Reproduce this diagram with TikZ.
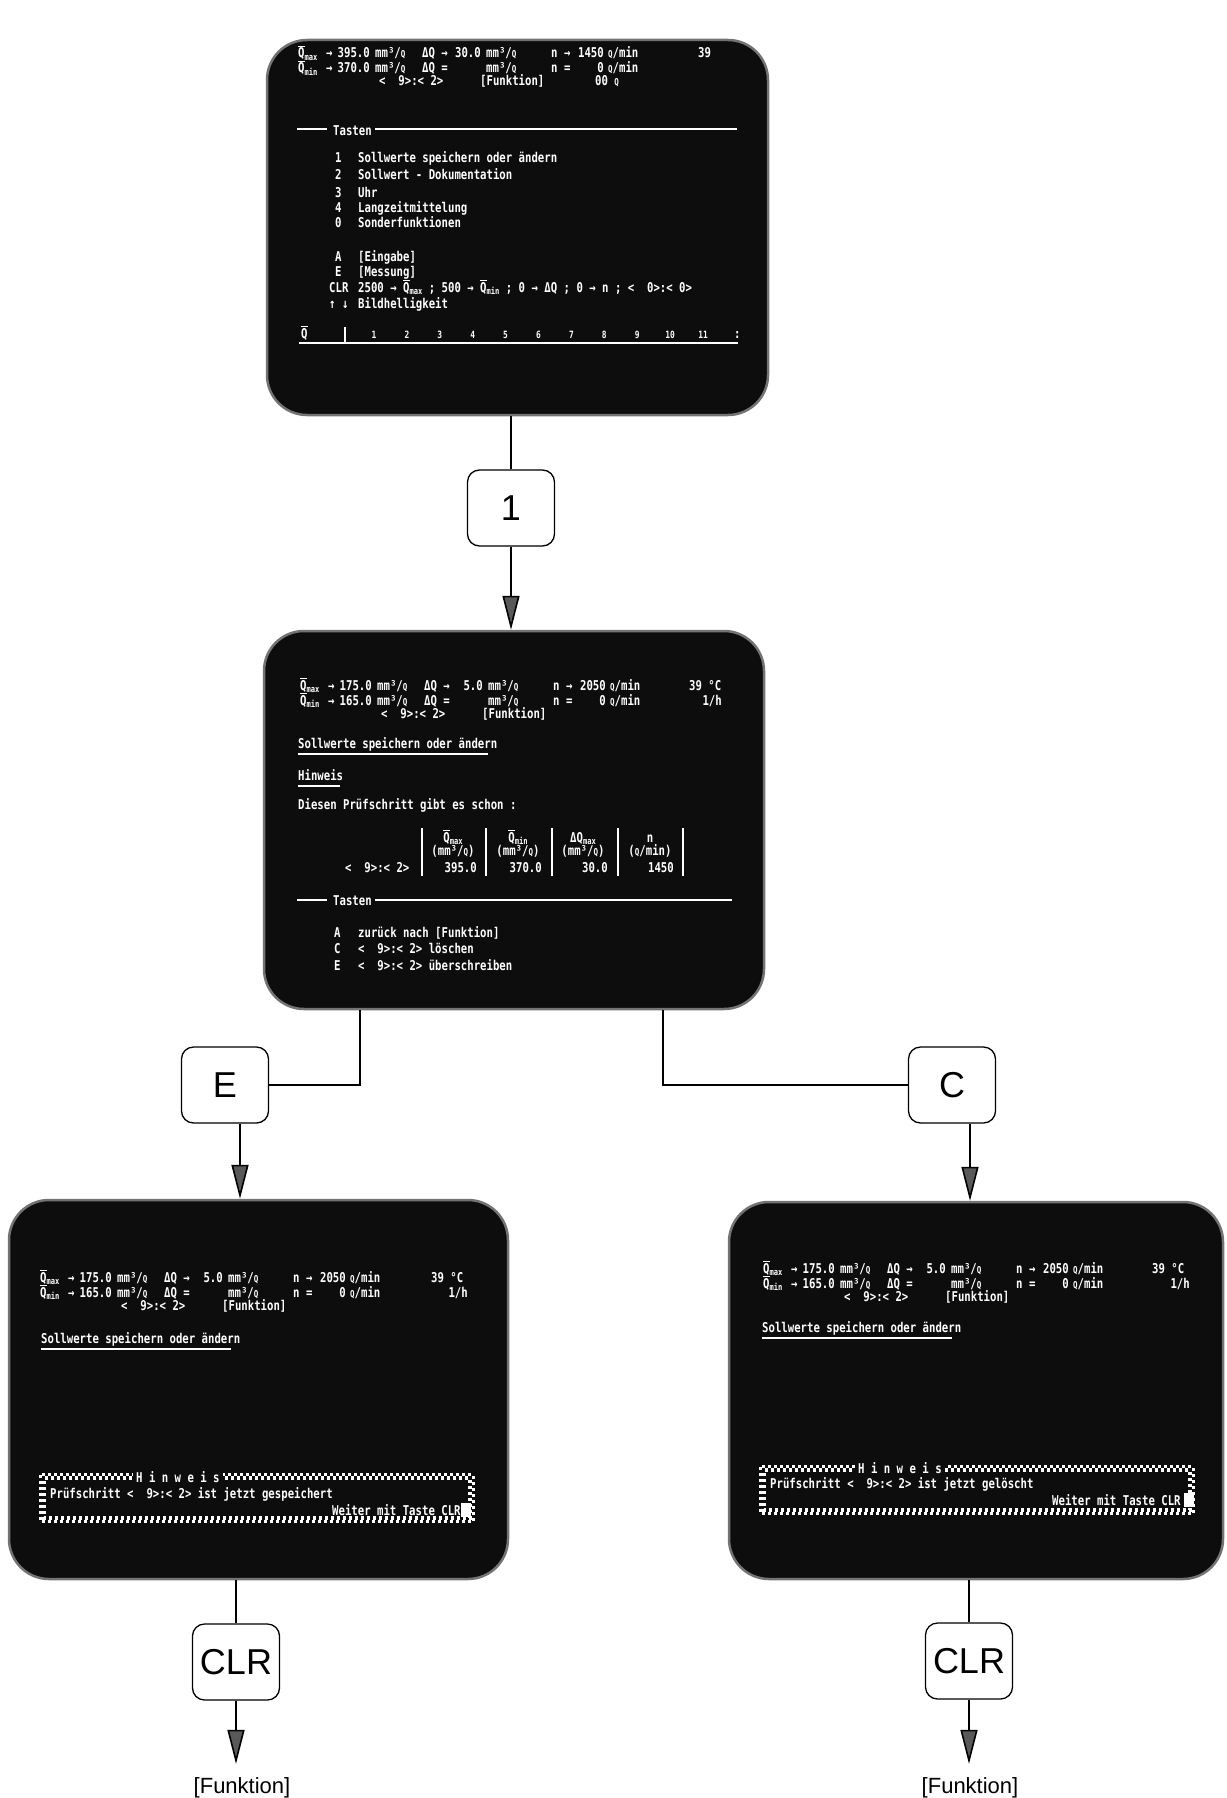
\documentclass[tikz,border=0pt]{standalone}
\usepackage{fontspec}
\setmainfont{Liberation Sans}
\newfontfamily\crtfamily[FakeStretch=0.79]{DejaVu Sans Mono}
\usepackage{tikz}
\usetikzlibrary{arrows.meta}

\newcommand\crtfont{\crtfamily\bfseries\fontsize{13.5}{16}\selectfont}
\newcommand\tief[1]{\raisebox{-2.5pt}{\fontsize{9}{9}\selectfont #1}}
\newcommand\qbar[1]{\makebox[0pt][l]{\rule[11pt]{7pt}{0.9pt}}Q\tief{#1}}
\newcommand\hub{{\fontsize{9.5}{9.5}\selectfont Q}}
\newcommand\kopf[6]{%
  \begin{scope}[shift={(#1,#2)}]
    \node[crt] at (0,0) {\qbar{max}};
    \node[crt] at (0,15) {\qbar{min}};
    \node[crt] at (28,0) {→};
    \node[crt] at (28,15) {→};
    \node[crt,anchor=base east] at (72,0) {#3};
    \node[crt,anchor=base east] at (72,15) {#6};
    \node[crt] at (77,0) {mm³/\hub};
    \node[crt] at (77,15) {mm³/\hub};
    \node[crt] at (124,0) {ΔQ →};
    \node[crt] at (124,15) {ΔQ =};
    \node[crt,anchor=base east] at (183,0) {#4};
    \node[crt] at (188,0) {mm³/\hub};
    \node[crt] at (188,15) {mm³/\hub};
    \node[crt] at (253,0) {n →};
    \node[crt] at (253,15) {n =};
    \node[crt,anchor=base east] at (306,0) {#5};
    \node[crt,anchor=base east] at (306,15) {0};
    \node[crt] at (310,0) {\hub/min};
    \node[crt] at (310,15) {\hub/min};
    \node[crt] at (81,28) {<~~9>:< 2>};
    \node[crt] at (182,28) {[Funktion]};
  \end{scope}}

\begin{document}
\begin{tikzpicture}[x=1pt,y=-1pt,
  screen/.style={draw=black!55,line width=2.5pt,fill=black!95,rounded corners=40pt,inner sep=0pt},
  crt/.style={text=white,font=\crtfont,inner sep=0pt,anchor=base west},
  taste/.style={draw,line width=1.3pt,fill=white,rounded corners=12pt,inner sep=2pt,
    minimum width=87pt,minimum height=76pt,font=\fontsize{36}{36}\selectfont},
  verb/.style={line width=1.6pt},
  pfeil/.style={-{Triangle[length=34pt,width=17pt,fill=black!65]}},
  strich/.style={white,line width=1.3pt},
  karo/.style={white,line width=3.4pt,dash pattern=on 3pt off 3pt}]
  \useasboundingbox (0,0) rectangle (1226,1798);

  \node[screen,minimum width=501pt,minimum height=375pt] (s1) at (517.5,227.5) {};
  \node[screen,minimum width=500pt,minimum height=378pt] (s2) at (514,820) {};
  \node[screen,minimum width=499pt,minimum height=379pt] (s3) at (258.5,1389.5) {};
  \node[screen,minimum width=494pt,minimum height=377pt] (s4) at (976,1390.5) {};

  \kopf{298}{58}{395.0}{30.0}{1450}{370.0}
  \node[crt] at (595,86) {00 \hub};
  \node[crt,text=white!45] at (698,58) {39};
  \draw[strich] (297,129) -- (327,129) (375,129) -- (737,129);
  \node[crt] at (333,136) {Tasten};
  \foreach \y/\nr/\txt in {163/1/Sollwerte speichern oder ändern, 180/2/Sollwert - Dokumentation,
      197/3/Uhr, 212/4/Langzeitmittelung, 227/0/Sonderfunktionen, 261/A/[Eingabe], 276/E/[Messung]} {
    \node[crt] at (335,\y) {\nr};
    \node[crt] at (358,\y) {\txt};
  }
  \node[crt] at (329,292) {CLR};
  \node[crt] at (358,292) {2500 → \qbar{max} ; 500 → \qbar{min} ; 0 → ΔQ ; 0 → n ; <~~0>:< 0>};
  \node[crt] at (329,308) {↑~↓};
  \node[crt] at (358,308) {Bildhelligkeit};
  \draw[strich] (299,343) -- (738,343) (345,327) -- (345,343);
  \node[crt] at (301,338) {\qbar{}};
  \foreach \i in {1,...,11}
    \node[crt,anchor=base,font=\crtfamily\bfseries\fontsize{10}{10}\selectfont] at ({374+(\i-1)*32.9},338) {\i};
  \node[crt] at (734,338) {:};

  \kopf{300}{690}{175.0}{5.0}{2050}{165.0}
  \node[crt] at (689,690) {39 °C};
  \node[crt,anchor=base east] at (722,705) {1/h};
  \node[crt] at (298,748) {Sollwerte speichern oder ändern};
  \draw[strich] (298,754) -- (488,754);
  \node[crt] at (298,780) {Hinweis};
  \draw[strich] (298,786) -- (340,786);
  \node[crt] at (298,809) {Diesen Prüfschritt gibt es schon :};
  \foreach \x in {422,486,552,618,683} \draw[strich] (\x,828) -- (\x,876);
  \node[crt] at (345,872) {<~~9>:< 2>};
  \foreach \x/\a in {453/\qbar{max}, 518/\qbar{min}, 583/Δ{}Q\tief{max}, 650/n}
    \node[crt,anchor=base] at (\x,842) {\a};
  \foreach \x in {453,518,583} \node[crt,anchor=base] at (\x,855) {(mm³/\hub)};
  \node[crt,anchor=base] at (650,855) {(\hub/min)};
  \foreach \x/\w in {477/395.0, 542/370.0, 608/30.0, 674/1450}
    \node[crt,anchor=base east] at (\x,872) {\w};
  \draw[strich] (297,900) -- (327,900) (375,900) -- (732,900);
  \node[crt] at (333,905) {Tasten};
  \foreach \y/\nr/\txt in {937/A/zurück nach [Funktion], 953/C/<~~9>:< 2> löschen, 970/E/<~~9>:< 2> überschreiben} {
    \node[crt] at (334,\y) {\nr};
    \node[crt] at (358,\y) {\txt};
  }

  \kopf{40}{1282}{175.0}{5.0}{2050}{165.0}
  \node[crt] at (431,1282) {39 °C};
  \node[crt,anchor=base east] at (468,1297) {1/h};
  \node[crt] at (41,1343) {Sollwerte speichern oder ändern};
  \draw[strich] (41,1349) -- (231,1349);
  \draw[karo] (40.7,1474.7) rectangle (473.3,1521.3);
  \draw[karo,dash phase=3pt] (44.1,1478.1) rectangle (469.9,1517.9);
  \node[crt,anchor=west,fill=black!95,inner xsep=3pt,inner ysep=1pt] at (133,1477) {H i n w e i s};
  \node[crt] at (50,1498) {Prüfschritt <~~9>:< 2> ist jetzt gespeichert};
  \node[crt] at (332,1515) {Weiter mit Taste CLR};
  \fill[white] (461,1503) rectangle (471,1517);

  \kopf{763}{1273}{175.0}{5.0}{2050}{165.0}
  \node[crt] at (1152,1273) {39 °C};
  \node[crt,anchor=base east] at (1190,1288) {1/h};
  \node[crt] at (762,1332) {Sollwerte speichern oder ändern};
  \draw[strich] (762,1338) -- (952,1338);
  \draw[karo] (760.7,1466.7) rectangle (1193.3,1513.3);
  \draw[karo,dash phase=3pt] (764.1,1470.1) rectangle (1189.9,1509.9);
  \node[crt,anchor=west,fill=black!95,inner xsep=3pt,inner ysep=1pt] at (855,1468) {H i n w e i s};
  \node[crt] at (770,1488) {Prüfschritt <~~9>:< 2> ist jetzt gelöscht};
  \node[crt] at (1052,1505) {Weiter mit Taste CLR};
  \fill[white] (1184,1493) rectangle (1194,1507);

  \node[taste] (k1) at (511,508) {1};
  \node[taste] (kE) at (225,1085) {E};
  \node[taste] (kC) at (952,1085) {C};
  \node[taste] (clr1) at (236,1662) {CLR};
  \node[taste] (clr2) at (969,1661) {CLR};
  \node[anchor=base,inner sep=0pt,font=\fontsize{22}{22}\selectfont] (f1) at (242,1793) {[Funktion]};
  \node[anchor=base,inner sep=0pt,font=\fontsize{22}{22}\selectfont] (f2) at (970,1793) {[Funktion]};

  \draw[verb] (k1.north) -- (k1.north |- s1.south);
  \draw[verb,pfeil] (k1.south) -- (k1.south |- s2.north);
  \draw[verb] ([xshift=-154pt]s2.south) |- (kE.east);
  \draw[verb] ([xshift=149pt]s2.south) |- (kC.west);
  \coordinate (eAus) at ([xshift=15pt]kE.south);
  \coordinate (cAus) at ([xshift=18pt]kC.south);
  \draw[verb,pfeil] (eAus) -- (eAus |- s3.north);
  \draw[verb,pfeil] (cAus) -- (cAus |- s4.north);
  \draw[verb] (clr1.north) -- (clr1.north |- s3.south);
  \draw[verb] (clr2.north) -- (clr2.north |- s4.south);
  \draw[verb,pfeil,shorten >=13pt] (clr1.south) -- (clr1.south |- f1.north);
  \draw[verb,pfeil,shorten >=13pt] (clr2.south) -- (clr2.south |- f2.north);
\end{tikzpicture}
\end{document}
